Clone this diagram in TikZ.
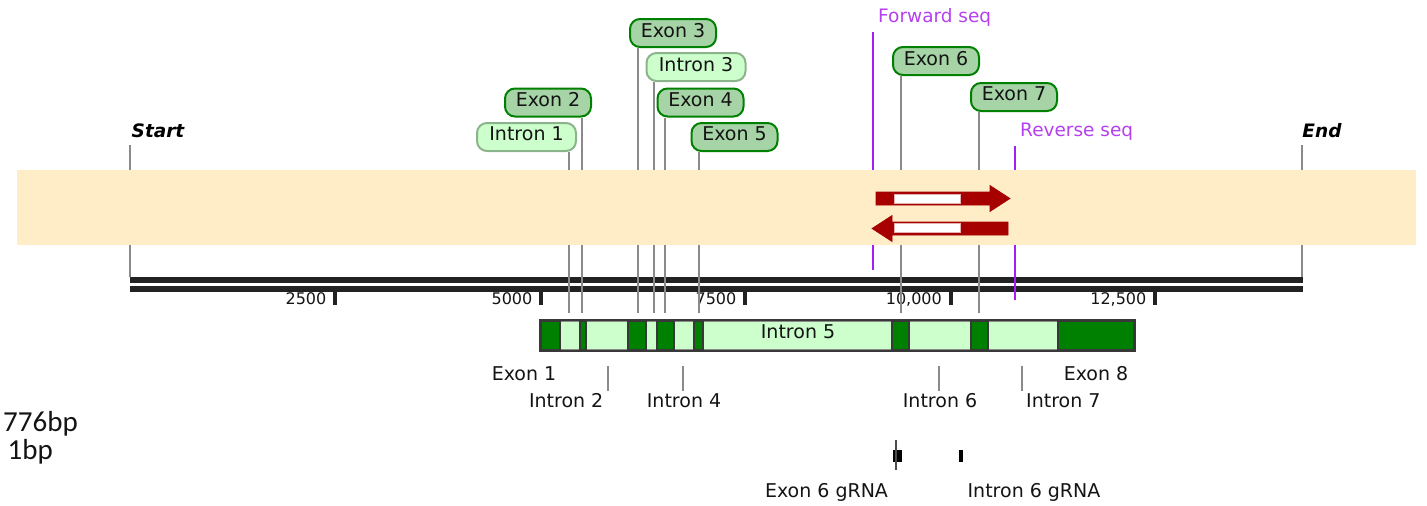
\documentclass[tikz,border=0pt]{standalone}
\usepackage{fontspec}
\setmainfont{DejaVu Sans}
\newfontfamily\calfont{Carlito}
\definecolor{bandc}{RGB}{254,237,199}
\definecolor{gline}{RGB}{138,138,138}
\definecolor{purp}{RGB}{165,32,240}
\definecolor{purptext}{RGB}{180,64,240}
\definecolor{dred}{RGB}{166,0,0}
\definecolor{dgreen}{RGB}{0,128,0}
\definecolor{lgreen}{RGB}{204,255,204}
\definecolor{mgreen}{RGB}{166,212,166}
\definecolor{igreen}{RGB}{140,180,140}
\definecolor{barc}{RGB}{34,34,34}
\definecolor{txt}{RGB}{20,20,20}
\tikzset{
  lbl/.style={font=\fontsize{19}{21}\selectfont, text=txt, inner sep=0pt},
  exbox/.style={lbl, draw=dgreen, fill=mgreen, line width=2pt, rounded corners=10pt,
    minimum width=86pt, minimum height=28pt, text depth=6pt},
  inbox/.style={lbl, draw=igreen, fill=lgreen, line width=2pt, rounded corners=10pt,
    minimum width=99pt, minimum height=28pt, text depth=6pt},
  lead/.style={draw=gline, line width=2pt},
  ticklbl/.style={font=\fontsize{16}{18}\selectfont, text=txt, inner sep=0pt, anchor=east},
  scaletick/.style={draw=barc, line width=4pt},
  endlbl/.style={font=\fontsize{18.5}{20}\selectfont\bfseries\itshape, text=black, inner sep=0pt},
  purlbl/.style={font=\fontsize{18.5}{20}\selectfont, text=purptext, inner sep=0pt},
  purline/.style={draw=purp, line width=2.5pt},
  intseg/.style={draw=gline, fill=lgreen, line width=2pt, inner sep=0pt, minimum height=29pt},
  exseg/.style={draw=barc!90, fill=dgreen, line width=2pt, inner sep=0pt, minimum height=29pt},
  redarrow/.style={fill=dred, draw=dred, line width=0.6pt},
  arrowinner/.style={fill=white, draw=dred!30, line width=0.6pt},
  grna/.style={fill=black, inner sep=0pt, minimum width=9pt, minimum height=12pt},
}
\newcommand\gseg[4]{\node[#1, minimum width={(#3-#2)*1pt}] (#4) at ({(#2+#3)/2},335.5) {};}
\begin{document}
\begin{tikzpicture}[x=1pt,y=-1pt]
\useasboundingbox (0,0) rectangle (1427,506);
\clip (0,0) rectangle (1427,506);

% double bar (sequence)
\fill[barc] (130,277) rectangle (1303,283);
\fill[barc] (130,285.5) rectangle (1303,292);

% scale ticks and labels
\foreach \x/\t/\n in {335/2500/s1, 541/5000/s2, 745/7500/s3, 950.5/{10,000}/s4, 1155/{12,500}/s5}{
  \coordinate (\n a) at (\x,292);
  \coordinate (\n b) at (\x,305);
  \draw[scaletick] (\n a) -- (\n b);
  \node[ticklbl] (\n l) at (\x-8.5,299) {\t};
}

% Start / End
\node[endlbl] (start) at (158,131) {Start};
\node[endlbl] (end) at (1322,131) {End};
\coordinate (startb) at (130,277);
\coordinate (endb) at (1302,277);
\draw[lead] (130,145) -- (startb);
\draw[lead] (1302,145) -- (endb);

% feature labels
\node[inbox] (in1) at (526.5,137) {Intron 1};
\node[exbox] (ex2) at (548,102.5) {Exon 2};
\node[exbox] (ex3) at (673,33) {Exon 3};
\node[inbox] (in3) at (696,67) {Intron 3};
\node[exbox] (ex4) at (700.5,102.5) {Exon 4};
\node[exbox] (ex5) at (734.5,137) {Exon 5};
\node[exbox] (ex6) at (936,61) {Exon 6};
\node[exbox] (ex7) at (1014,97) {Exon 7};

\foreach \n/\x in {in1/569, ex2/582, ex3/638, in3/654, ex4/665, ex5/699, ex6/901, ex7/979}{
  \coordinate (\n e) at (\x,313);
  \draw[lead] (\n.south -| \n e) -- (\n e);
}

% primers
\node[purlbl, anchor=west] (fwd) at (878,17) {Forward seq};
\node[purlbl, anchor=west] (rev) at (1020,131.5) {Reverse seq};
\coordinate (fwdt) at (873,32);
\coordinate (fwdb) at (873,270);
\coordinate (revt) at (1015,146);
\coordinate (revb) at (1015,300);
\draw[purline] (fwdt) -- (fwdb);
\draw[purline] (revt) -- (revb);

% band
\fill[bandc] (17,170) rectangle (1416,244.5);

% red arrows
\path[redarrow] (876,192) -- (990,192) -- (990,185.5) -- (1010,198.5) -- (990,211.5) -- (990,205) -- (876,205) -- cycle;
\path[arrowinner] (894,194.5) rectangle (960,203);
\path[redarrow] (1008,222) -- (892,222) -- (892,215.5) -- (872,228.5) -- (892,241.5) -- (892,235) -- (1008,235) -- cycle;
\path[arrowinner] (894,223.5) rectangle (960,232.5);

% gene map
\gseg{intseg}{560}{580}{g-in1}
\gseg{intseg}{586}{628}{g-in2}
\gseg{intseg}{646}{657}{g-in3}
\gseg{intseg}{674}{694}{g-in4}
\gseg{intseg}{703}{892}{g-in5}
\gseg{intseg}{909}{971}{g-in6}
\gseg{intseg}{988}{1058}{g-in7}
\gseg{exseg}{541}{560}{g-ex1}
\gseg{exseg}{580}{586}{g-ex2}
\gseg{exseg}{628}{646}{g-ex3}
\gseg{exseg}{657}{674}{g-ex4}
\gseg{exseg}{694}{703}{g-ex5}
\gseg{exseg}{892}{909}{g-ex6}
\gseg{exseg}{971}{988}{g-ex7}
\gseg{exseg}{1058}{1134}{g-ex8}
\draw[barc!90, line width=2pt] (g-ex1.north west) rectangle (g-ex8.south east);
\node[lbl] (in5t) at (798,332) {Intron 5};

% labels below gene map
\node[lbl] (l-ex1) at (524,374) {Exon 1};
\node[lbl] (l-ex8) at (1096,374) {Exon 8};
\node[lbl, anchor=east] (l-in2) at (603.5,401) {Intron 2};
\node[lbl] (l-in4) at (684,401) {Intron 4};
\node[lbl] (l-in6) at (940,401) {Intron 6};
\node[lbl, anchor=west] (l-in7) at (1026,401) {Intron 7};
\foreach \n/\x in {in2/608, in4/683, in6/939, in7/1022}{
  \coordinate (t\n a) at (\x,366);
  \coordinate (t\n b) at (\x,391);
  \draw[lead] (t\n a) -- (t\n b);
}

% gRNA marks
\node[grna] (g1) at (897.5,456) {};
\node[grna, minimum width=4pt] (g2) at (961,456) {};
\coordinate (g1t) at (896,440);
\coordinate (g1b) at (896,470);
\draw[draw=black!70, line width=1.6pt] (g1t) -- (g1b);
\node[lbl] (g1l) at (826.5,492) {Exon 6 gRNA};
\node[lbl] (g2l) at (1034,492) {Intron 6 gRNA};

% left lengths
\node[font=\calfont\fontsize{29}{31}\selectfont, text=txt, inner sep=0pt, anchor=east] (len1) at (78,424) {776bp};
\node[font=\calfont\fontsize{29}{31}\selectfont, text=txt, inner sep=0pt, anchor=east] (len2) at (53,452) {1bp};
\end{tikzpicture}
\end{document}
